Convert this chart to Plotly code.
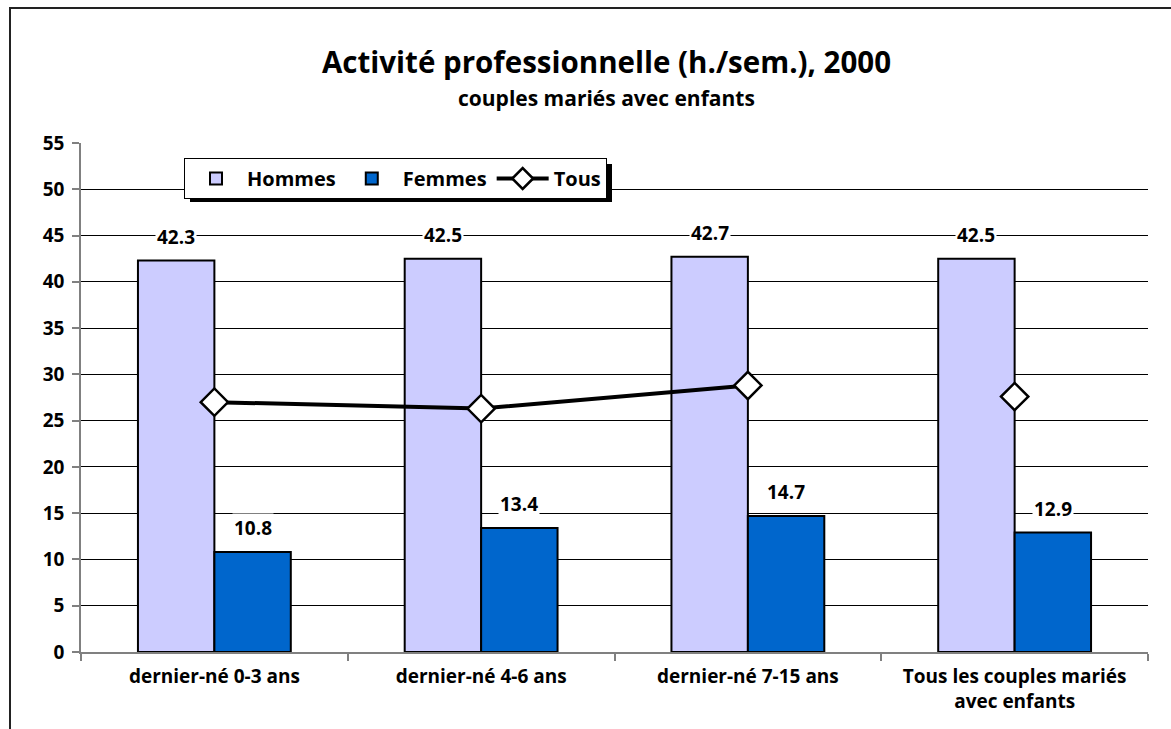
import plotly.graph_objects as go

# Weekly hours of paid work, married couples with children, 2000
categories = [
    "dernier-né 0-3 ans",
    "dernier-né 4-6 ans",
    "dernier-né 7-15 ans",
    "Tous les couples mariés<br>avec enfants",
]
hommes = [42.3, 42.5, 42.7, 42.5]
femmes = [10.8, 13.4, 14.7, 12.9]
tous = [27.0, 26.3, 28.8, 27.6]
y_ticks = list(range(0, 56, 5))

W, H = 1171, 729
L, R, T, B = 81, 23, 143, 77
PW, PH = W - L - R, H - T - B


def px_x(px):
    return (px - L) / PW


def px_y(py):
    return (H - B - py) / PH


FONT = "Open Sans"
HOMMES_C = "#CCCCFF"
FEMMES_C = "#0066CC"
TXT = 19

fig = go.Figure()
fig.add_trace(go.Bar(
    name="Hommes", x=categories, y=hommes,
    marker=dict(color=HOMMES_C, line=dict(color="black", width=2)),
))
fig.add_trace(go.Bar(
    name="Femmes", x=categories, y=femmes,
    marker=dict(color=FEMMES_C, line=dict(color="black", width=2)),
))
# the three "dernier-né" groups are joined by a line, the overall group stands alone
fig.add_trace(go.Scatter(
    name="Tous", x=categories[:3], y=tous[:3], mode="lines+markers",
    line=dict(color="black", width=4),
    marker=dict(symbol="diamond", size=21, color="white",
                line=dict(color="black", width=2.5)),
))
fig.add_trace(go.Scatter(
    name="Tous", x=categories[3:], y=tous[3:], mode="markers", showlegend=False,
    marker=dict(symbol="diamond", size=21, color="white",
                line=dict(color="black", width=2.5)),
))

bargap = 0.427
bar_w = (1 - bargap) / 2
annotations = []
for i in range(len(categories)):
    for vals, off in ((hommes, -bar_w / 2), (femmes, bar_w / 2)):
        annotations.append(dict(
            x=i + off, y=vals[i], xref="x", yref="y",
            text=f"{vals[i]:.1f}", showarrow=False,
            yanchor="middle", yshift=24, bgcolor="white", borderpad=1,
            font=dict(family=FONT, size=TXT, color="black", weight="bold"),
        ))

annotations.append(dict(
    x=px_x(606), y=px_y(62), xref="paper", yref="paper",
    text="Activité professionnelle (h./sem.), 2000", showarrow=False,
    xanchor="center", yanchor="middle",
    font=dict(family=FONT, size=29.5, color="black", weight="bold"),
))
annotations.append(dict(
    x=px_x(606), y=px_y(98), xref="paper", yref="paper",
    text="couples mariés avec enfants", showarrow=False,
    xanchor="center", yanchor="middle",
    font=dict(family=FONT, size=21, color="black", weight="bold"),
))

shapes = [
    # chart frame (runs past the right and bottom edges of the page)
    dict(type="rect", xref="paper", yref="paper",
         x0=px_x(10), y0=px_y(760), x1=px_x(1200), y1=px_y(8),
         line=dict(color="#222222", width=2), fillcolor="rgba(0,0,0,0)",
         layer="below"),
    # legend drop shadow
    dict(type="rect", xref="paper", yref="paper",
         x0=px_x(190), y0=px_y(202), x1=px_x(612), y1=px_y(164),
         line=dict(width=0), fillcolor="black", layer="above"),
]

fig.update_layout(
    width=W, height=H,
    margin=dict(l=L, r=R, t=T, b=B, autoexpand=False),
    paper_bgcolor="white", plot_bgcolor="white",
    font=dict(family=FONT, size=TXT, color="black", weight="bold"),
    barmode="group", bargap=bargap, bargroupgap=0,
    showlegend=True,
    legend=dict(
        orientation="h", x=px_x(184), y=px_y(158),
        xanchor="left", yanchor="top",
        bgcolor="white", bordercolor="black", borderwidth=1,
        font=dict(family=FONT, size=20, color="black", weight="bold"),
        itemwidth=52, tracegroupgap=0,
    ),
    xaxis=dict(
        showline=True, linecolor="#808080", linewidth=2,
        ticks="outside", tickson="boundaries", ticklen=7,
        tickcolor="#808080", tickwidth=1.5,
        showgrid=False, tickfont=dict(size=TXT), ticklabelstandoff=6,
    ),
    yaxis=dict(
        range=[0, 55], tickvals=y_ticks, showgrid=True,
        gridcolor="black", gridwidth=1,
        showline=True, linecolor="#808080", linewidth=1.5,
        ticks="outside", ticklen=7, tickcolor="#808080", tickwidth=1.5,
        zeroline=False, tickfont=dict(size=TXT), ticklabelstandoff=4,
    ),
    annotations=annotations, shapes=shapes,
)

fig.write_html("out.html")
